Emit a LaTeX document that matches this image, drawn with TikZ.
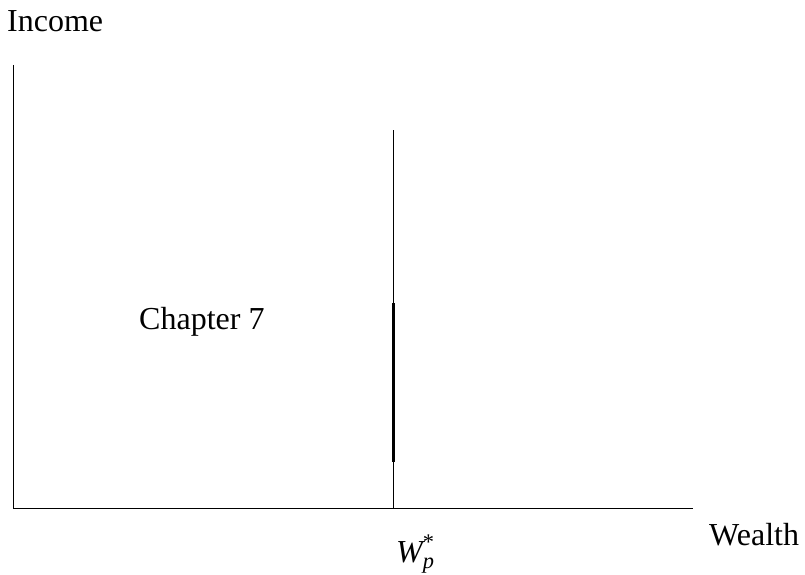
\documentclass[tikz,border=0pt]{standalone}
\usepackage{amsmath}
\usepackage{fontspec}
\setmainfont{Liberation Serif}
\begin{document}
\begin{tikzpicture}[x=1pt,y=-1pt,
  lbl/.style={inner sep=0pt,font=\fontsize{32}{38}\selectfont},
  axis/.style={line width=1pt},
  thick seg/.style={line width=3pt}]
\useasboundingbox (0,0) rectangle (805,575);
\coordinate (O) at (13,508);
\coordinate (ytop) at (13,65);
\coordinate (xend) at (693,508);
\coordinate (vtop) at (393,130);
\coordinate (vbot) at (393,508);
\coordinate (sTop) at (393,303);
\coordinate (sBot) at (393,462);
\draw[axis] (ytop) -- (O) -- (xend);
\draw[axis] (vtop) -- (vbot);
\draw[thick seg] (sTop) -- (sBot);
\node[lbl,anchor=base west] (income) at (7,32) {Income};
\node[lbl,anchor=base west] (ch) at (139,329) {Chapter 7};
\node[lbl,anchor=base west] (wp) at (396,562) {$\textit{W}^{\text{*}}_{\textit{p}}$};
\node[lbl,anchor=base west] (wealth) at (709,545) {Wealth};
\end{tikzpicture}
\end{document}
